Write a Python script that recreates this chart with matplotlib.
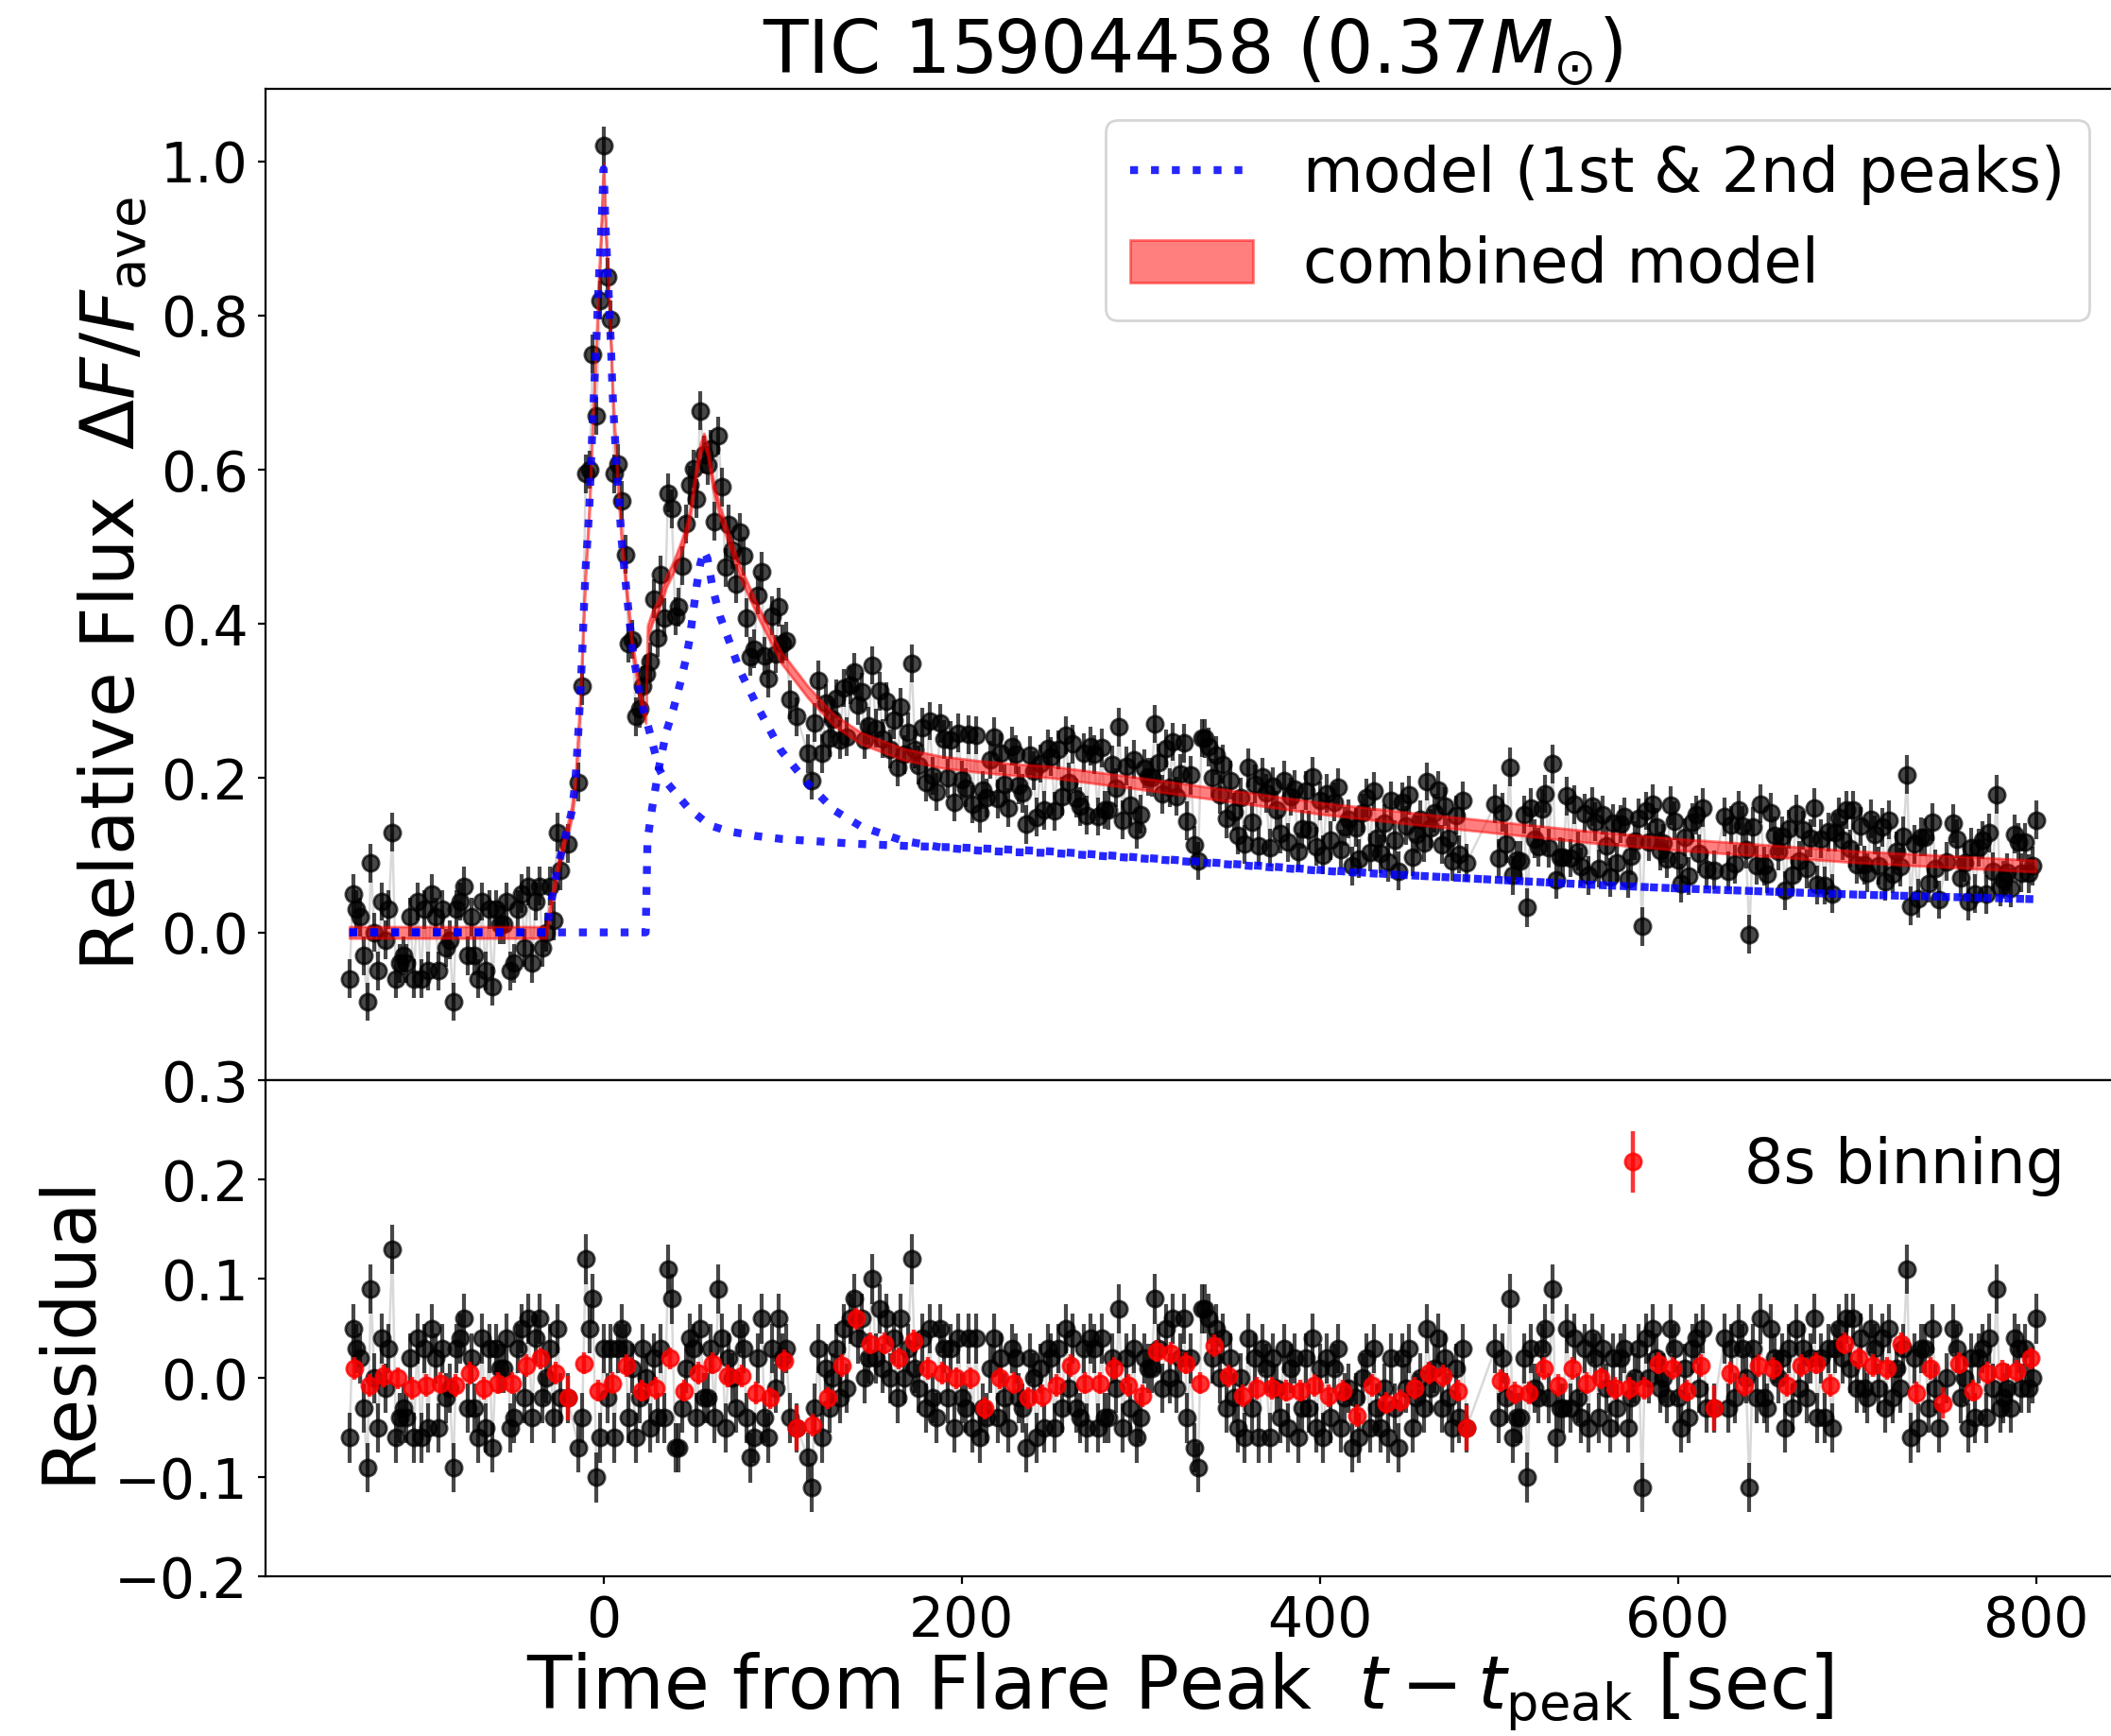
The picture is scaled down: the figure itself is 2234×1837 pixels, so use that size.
import numpy as np
import matplotlib
matplotlib.use("Agg")
import matplotlib.pyplot as plt

# ---------------- data ----------------
# observation times [s] : regular 2 s cadence with a few dropped frames
t_start, t_stop, cadence = -142, 800, 2
missing_t = [-22, -18, -16, 106, 110, 112, 484, 486, 488, 490, 492, 494, 496,
             618, 622, 624, 748, 752]

# residuals (data - combined model) in units of 0.01
resid_pct = [
    -6, 5, 3, 2,   -3, -9, 9, 0,   -5, 4, -1, 3,   13, -6, -4, -3,   -4, 2, -6, 4,
    -6, 3, -5, 5,   2, -5, 3, -2,   -1, -9, 3, 4,   6, -3, 2, -3,   -6, 4, -5, 3,
    -7, 3, 1, 1,   4, -5, -4, 3,   5, -2, 6, -4,   4, 6, -2, 0,   3, -4, 5, -2,
    -2,   -7, -4, 12, 5,   8, -10, -6, 3,   -2, 3, -6, 3,   5, 3, -4, 1,
    -6, -2, 3, 0,   -5, 2, -4, 3,   -4, 11, 8, -7,   -7, -3, 1, 4,   3, -4, 5, -2,
    -2, 3, -4, 9,   4, -5, 2, 0,   -3, 5, 3, -4,   -8, -6, 2, 6,   -4, -6, 3, -1,
    6, 2, 3, -4,   -5,   -8, -11, -3, 3,   -6, 1, -3, 0,   3, -2, 5, -1,
    6, 8, 4, 6,   0, 2, 10, 2,   7, 1, 6, 0,   4, -2, 6, 0,   3, 12, 1, -1,
    4, -3, 5, -2,   -4, 5, 3, -2,   3, -5, 4, -2,   -3, 4, -5, 4,   -6, -3, -4, 1,
    4, -4, 2, -2,   -5, 3, 2, -2,   -3, -7, 2, 0,   -6, 1, -5, 3,   2, -5, 3, -3,
    5, -1, 4, -3,   -4, 3, -5, 4,   3, -5, 4, -4,   -4, 2, -1, 7,   -5, 2, -3, 3,
    -6, -4, 2, 1,   1, 8, 3, -1,   5, 0, 6, -1,   2, 6, -4, 2,   -7, -9, 7, 7,
    6, 2, 5, 0,   4, -3, 2, -2,   -5, 0, -6, 4,   -3, 2, -6, 3,   1, -6, 2, -1,
    -4, 3, -5, 1,   2, -6, -3, 2,   -3, 4, -5, 1,   -6, 2, -4, 1,   3, -5, -2, -1,
    -7, -2, -6, 0,   2, -5, 3, -3,   -5, -1, -6, 2,   -3, -7, 2, -1,   3, -5, -2, 0,
    -3, 5, -1, 1,   4, -3, 2, -2,   -5, 1, -4, 3,   -5,
    3, -4, 2, -2,   8, -6, -4, -4,   2, -10, 3, -1,   -2, 3, 5, -2,   9, -6, -3, -3,
    5, -3, 4, -2,   -4, 3, -5, 4,   2, -4, 3, -1,   -5, 2, -3, 2,   3, -5, -2, 0,
    3, -11, 4, 0,   5, 2, -1, 0,   -2, 5, 3, -2,   -5, 1, -4, 3,   4, -1, 5, -3,
    -3,   4, -3, 3, -2,   5, 3, 0, -11,   3, -2, 6, -2,   -3, 5, 2, 0,
    2, -5, 3, -3,   5, -1, 3, -2,   2, 6, -4, 2,   -4, 3, -5, 3,   5, 2, 6, 1,
    6, -1, 4, -1,   -2, 5, 3, -1,   4, -3, 5, -2,   1, -1, 3, 11,   -6, 2, -5, 3,
    3, -3, 5, -1,   -5, 0,   5, 3, -2, 0,   -5, 2, -4, 2,   3, -4, 4, -1,
    9, -3, -2, -1,   -3, 4, 3, -1,   3, -1, 0, 6,
]
flux_err = 0.025           # per-point uncertainty
bin_width = 8              # [s]

# model of the 1st peak (blue dotted)
model1_t = [-142, -32, -30, -28, -26, -24, -22, -20, -18, -16, -15, -14, -13, -12,
            -11, -10, -9, -8, -7, -6, -5, -4, -3, -2, -1, 0, 1, 2, 3, 4, 5, 6, 7,
            8, 9, 10, 12, 14, 16, 18, 20, 22, 24, 27, 31, 35, 39, 47, 59, 70, 85,
            100, 120, 140, 170, 200, 230, 250, 300, 350, 400, 450, 500, 550, 600,
            650, 700, 750, 800]
model1_f = [0, 0, 0.03, 0.055, 0.08, 0.10, 0.12, 0.135, 0.155, 0.19, 0.225, 0.265,
            0.31, 0.36, 0.42, 0.475, 0.51, 0.55, 0.61, 0.67, 0.72, 0.77, 0.83, 0.88,
            0.93, 0.99, 0.92, 0.87, 0.82, 0.765, 0.70, 0.655, 0.615, 0.578, 0.545,
            0.51, 0.46, 0.415, 0.37, 0.34, 0.31, 0.29, 0.275, 0.248, 0.212, 0.195,
            0.184, 0.162, 0.139, 0.131, 0.125, 0.121, 0.118, 0.115, 0.112, 0.110,
            0.107, 0.105, 0.097, 0.089, 0.081, 0.074, 0.068, 0.062, 0.057, 0.053,
            0.049, 0.046, 0.043]
# model of the 2nd peak (blue dotted)
model2_t = [-142, 23.5, 24.5, 27, 31, 35, 39, 43, 46, 48, 50, 52, 54, 56, 58, 61,
            65, 69, 76, 87, 99, 114, 129, 144, 167, 189, 210, 230, 250, 300, 350,
            400, 450, 500, 550, 600, 650, 700, 750, 800]
model2_f = [0, 0, 0.12, 0.16, 0.215, 0.26, 0.29, 0.325, 0.355, 0.38, 0.415, 0.45,
            0.478, 0.495, 0.485, 0.445, 0.41, 0.385, 0.34, 0.288, 0.236, 0.193,
            0.158, 0.137, 0.119, 0.11, 0.106, 0.104, 0.103, 0.096, 0.088, 0.080,
            0.074, 0.068, 0.062, 0.057, 0.053, 0.049, 0.046, 0.043]
band_half = 0.0075         # half width of the combined-model band

title = r"TIC 15904458 ($0.37M_{\odot}$)"
ylabel_top = r"Relative Flux  $\Delta F/F_{\rm ave}$"
ylabel_bot = "Residual"
xlabel = r"Time from Flare Peak  $t-t_{\rm peak}$ [sec]"
top_yticks = [0.0, 0.2, 0.4, 0.6, 0.8, 1.0]
bot_yticks = [-0.2, -0.1, 0.0, 0.1, 0.2, 0.3]
xticks = [0, 200, 400, 600, 800]

# ---------------- derived ----------------
t = np.arange(t_start, t_stop + 1, cadence).astype(float)
t = t[~np.isin(t, missing_t)]
resid = np.array(resid_pct, dtype=float) / 100.0
assert len(resid) == len(t), (len(resid), len(t))

m1_t = np.array(model1_t, float); m1_f = np.array(model1_f, float)
m2_t = np.array(model2_t, float); m2_f = np.array(model2_f, float)
tm = np.union1d(m1_t, m2_t)
comb = np.interp(tm, m1_t, m1_f) + np.interp(tm, m2_t, m2_f)
flux = np.interp(t, m1_t, m1_f) + np.interp(t, m2_t, m2_f) + resid

bidx = np.floor((t - t_start) / bin_width).astype(int)
bt, br, be = [], [], []
for k in np.unique(bidx):
    sel = bidx == k
    n = sel.sum()
    bt.append(t[sel].mean()); br.append(resid[sel].mean())
    be.append(0.9 * flux_err / np.sqrt(n))

# ---------------- figure ----------------
plt.rcParams["font.family"] = ["DejaVu Sans"]
fig = plt.figure(figsize=(11.17, 9.185), dpi=200)
L, W = 0.12565, 0.87865
ax1 = fig.add_axes([L, 0.37763, W, 0.5712])
ax2 = fig.add_axes([L, 0.09173, W, 0.2859], sharex=ax1)

pt_style = dict(fmt="o", color="k", ms=6.2, elinewidth=1.5, alpha=0.72)

# top panel
ax1.plot(t, flux, color="k", lw=0.9, alpha=0.15, zorder=1)
ax1.errorbar(t, flux, yerr=flux_err, zorder=2, **pt_style)
band = ax1.fill_between(tm, comb - band_half, comb + band_half, color="red",
                        alpha=0.5, lw=1, zorder=3, label="combined model")
l1, = ax1.plot(m1_t, m1_f, ls=":", color="b", lw=3, alpha=0.85, zorder=4,
               label="model (1st & 2nd peaks)")
ax1.plot(m2_t, m2_f, ls=":", color="b", lw=3, alpha=0.85, zorder=4)
ax1.legend(handles=[l1, band], loc="upper right", fontsize=23.5)

ax1.set_xlim(-189, 847)
ax1.set_ylim(-0.192, 1.094)
ax1.set_yticks(top_yticks)
ax1.tick_params(axis="x", bottom=False, labelbottom=False)
ax1.tick_params(axis="y", labelsize=21, length=3)
ax1.set_ylabel(ylabel_top, fontsize=28)
ax1.set_title(title, fontsize=28, pad=3)

# bottom panel
ax2.plot(t, resid, color="k", lw=0.9, alpha=0.15, zorder=1)
ax2.errorbar(t, resid, yerr=flux_err, zorder=2, **pt_style)
ax2.errorbar(bt, br, yerr=be, fmt="o", color="red", ms=6.2, elinewidth=1.6,
             alpha=0.8, zorder=3, label="8s binning")
ax2.legend(loc="upper right", frameon=False, fontsize=23.5)
ax2.set_ylim(-0.2, 0.3)
ax2.set_yticks(bot_yticks)
ax2.set_xticks(xticks)
ax2.tick_params(axis="both", labelsize=21, length=3)
ax2.set_ylabel(ylabel_bot, fontsize=28)
ax2.set_xlabel(xlabel, fontsize=28, labelpad=1)
ax2.xaxis.label.set_x(0.493)

fig.savefig("out.png", dpi=200)
